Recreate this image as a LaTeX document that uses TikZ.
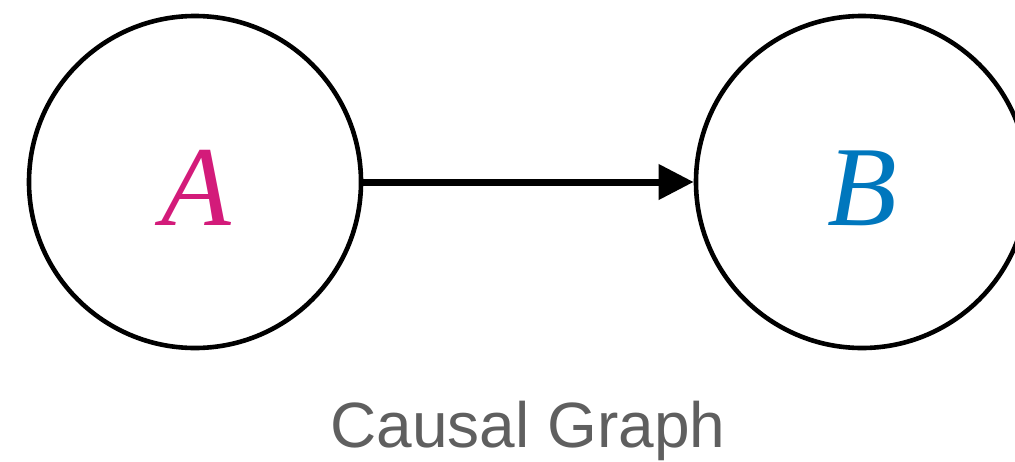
\documentclass[tikz,border=0pt]{standalone}
\usepackage{fontspec}
\setmainfont{Liberation Serif}
\setsansfont{Liberation Sans}
\usetikzlibrary{arrows.meta}
\definecolor{varA}{HTML}{D31B7A}
\definecolor{varB}{HTML}{0077BD}
\definecolor{caption}{HTML}{5F5F5F}
% letter set on a baseline 43pt below the circle centre
\newcommand{\varlabel}[1]{\raisebox{-43pt}[0pt][0pt]{#1}}
\begin{document}
\begin{tikzpicture}[x=1pt,y=1pt,
  var/.style={circle,draw=black,line width=4.6pt,minimum size=332pt,inner sep=0pt,
    font=\fontsize{114}{114}\selectfont\itshape},
  edge/.style={line width=7pt,-{Triangle[length=35pt,width=34pt]}}]
  \useasboundingbox (0,0) rectangle (1015,-461);
  \node[var,text=varA] (A) at (195,-182) {\varlabel{\hspace{3pt}A}};
  \node[var,text=varB] (B) at (862,-182) {\varlabel{B}};
  \draw[edge] (A) -- (B);
  \node[anchor=base,text=caption,font=\sffamily\fontsize{64}{64}\selectfont] (cap) at (528,-447) {Causal Graph};
\end{tikzpicture}
\end{document}
